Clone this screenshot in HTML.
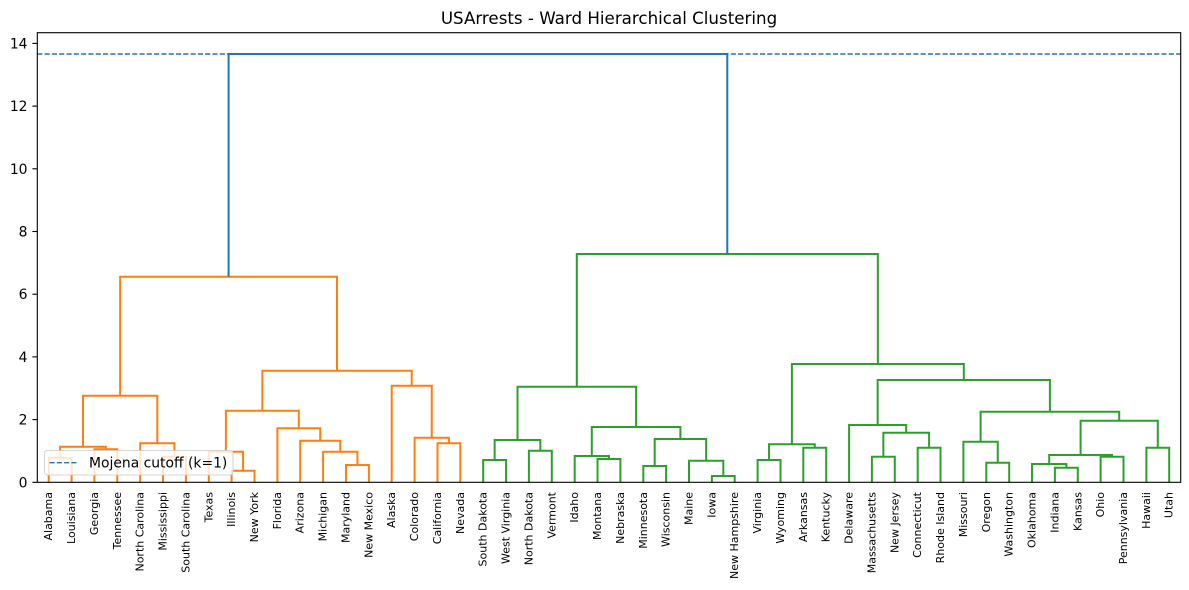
<!DOCTYPE html>
<html>
<head>
<meta charset="utf-8">
<style>
html,body{margin:0;padding:0;background:#fff;}
body{width:1189px;height:590px;overflow:hidden;}
svg{display:block;font-family:"DejaVu Sans","Liberation Sans",sans-serif;}
</style>
</head>
<body>
<svg width="1189" height="590" viewBox="0 0 1189 590" xmlns="http://www.w3.org/2000/svg">
<rect x="0" y="0" width="1189" height="590" fill="#fff"/>
<text x="609" y="24" font-size="16.7" text-anchor="middle" fill="#000">USArrests - Ward Hierarchical Clustering</text>

<g fill="none" stroke="#ff7f0e" stroke-width="2" stroke-linejoin="miter" stroke-linecap="butt">
<path d="M48.7,482.3V457.7H71.6V482.3"/>
<path d="M94.4,482.3V449.3H117.3V482.3"/>
<path d="M60.15,457.7V446.7H105.85V449.3"/>
<path d="M163,482.3V456.7H185.9V482.3"/>
<path d="M140.2,482.3V443.3H174.45V456.7"/>
<path d="M83,446.7V395.7H157.3V443.3"/>
<path d="M231.6,482.3V470.7H254.5V482.3"/>
<path d="M208.8,482.3V451.7H243.05V470.7"/>
<path d="M346,482.3V465H368.9V482.3"/>
<path d="M323.1,482.3V451.7H357.45V465"/>
<path d="M300.2,482.3V440.7H340.3V451.7"/>
<path d="M277.4,482.3V428.3H320.25V440.7"/>
<path d="M225.9,451.7V410.7H298.8V428.3"/>
<path d="M437.5,482.3V443.3H460.3V482.3"/>
<path d="M414.6,482.3V437.7H448.9V443.3"/>
<path d="M391.7,482.3V385.7H431.75V437.7"/>
<path d="M262.35,410.7V370.7H411.7V385.7"/>
<path d="M120.15,395.7V276.7H337V370.7"/>
</g>
<g fill="none" stroke="#2ca02c" stroke-width="2" stroke-linejoin="miter" stroke-linecap="butt">
<path d="M483.2,482.3V460H506.1V482.3"/>
<path d="M528.9,482.3V450.7H551.8V482.3"/>
<path d="M494.65,460V440H540.35V450.7"/>
<path d="M597.5,482.3V459H620.4V482.3"/>
<path d="M574.7,482.3V456H608.95V459"/>
<path d="M643.3,482.3V466H666.1V482.3"/>
<path d="M711.9,482.3V476H734.7V482.3"/>
<path d="M689,482.3V460.7H723.3V476"/>
<path d="M654.7,466V439H706.15V460.7"/>
<path d="M591.8,456V427H680.4V439"/>
<path d="M517.5,440V386.7H636.1V427"/>
<path d="M757.6,482.3V460H780.5V482.3"/>
<path d="M803.3,482.3V447.7H826.2V482.3"/>
<path d="M769.05,460V444.3H814.75V447.7"/>
<path d="M871.9,482.3V456.7H894.8V482.3"/>
<path d="M917.7,482.3V447.7H940.5V482.3"/>
<path d="M883.35,456.7V432.7H929.1V447.7"/>
<path d="M849.1,482.3V425H906.2V432.7"/>
<path d="M986.3,482.3V462.7H1009.2V482.3"/>
<path d="M963.4,482.3V441.7H997.75V462.7"/>
<path d="M1054.9,482.3V467.7H1077.8V482.3"/>
<path d="M1032,482.3V464H1066.35V467.7"/>
<path d="M1100.6,482.3V456.7H1123.5V482.3"/>
<path d="M1049.2,464V455H1112.05V456.7"/>
<path d="M1146.4,482.3V447.7H1169.2V482.3"/>
<path d="M1080.6,455V420.7H1157.8V447.7"/>
<path d="M980.6,441.7V411.7H1119.2V420.7"/>
<path d="M877.65,425V380H1049.9V411.7"/>
<path d="M791.9,444.3V364H963.8V380"/>
<path d="M576.8,386.7V254H877.85V364"/>
</g>
<g fill="none" stroke="#1f77b4" stroke-width="2">
<path d="M228.6,276.7V54H727.3V254"/>
</g>

<!-- cutoff line -->
<line x1="37.3" y1="54" x2="1180.7" y2="54" stroke="#1f77b4" stroke-width="1.4" stroke-dasharray="5.1,2.2"/>

<!-- spines -->
<rect x="37.3" y="32.7" width="1143.4" height="449.6" fill="none" stroke="#000" stroke-width="1.1"/>

<!-- y ticks -->
<g stroke="#000" stroke-width="1.1">
<line x1="32.4" y1="482.3" x2="37.3" y2="482.3"/>
<line x1="32.4" y1="419.6" x2="37.3" y2="419.6"/>
<line x1="32.4" y1="356.9" x2="37.3" y2="356.9"/>
<line x1="32.4" y1="294.2" x2="37.3" y2="294.2"/>
<line x1="32.4" y1="231.5" x2="37.3" y2="231.5"/>
<line x1="32.4" y1="168.8" x2="37.3" y2="168.8"/>
<line x1="32.4" y1="106.1" x2="37.3" y2="106.1"/>
<line x1="32.4" y1="43.4" x2="37.3" y2="43.4"/>
</g>
<g font-size="13.9" text-anchor="end" fill="#000">
<text x="27.5" y="487.3">0</text>
<text x="27.5" y="424.6">2</text>
<text x="27.5" y="361.9">4</text>
<text x="27.5" y="299.2">6</text>
<text x="27.5" y="236.5">8</text>
<text x="27.5" y="173.8">10</text>
<text x="27.5" y="111.1">12</text>
<text x="27.5" y="48.4">14</text>
</g>

<!-- leaf labels -->
<g font-size="11" text-anchor="end" dominant-baseline="central" fill="#000">
<text transform="translate(48.7,492) rotate(-90)">Alabama</text>
<text transform="translate(71.6,492) rotate(-90)">Louisiana</text>
<text transform="translate(94.4,492) rotate(-90)">Georgia</text>
<text transform="translate(117.3,492) rotate(-90)">Tennessee</text>
<text transform="translate(140.2,492) rotate(-90)">North Carolina</text>
<text transform="translate(163,492) rotate(-90)">Mississippi</text>
<text transform="translate(185.9,492) rotate(-90)">South Carolina</text>
<text transform="translate(208.8,492) rotate(-90)">Texas</text>
<text transform="translate(231.6,492) rotate(-90)">Illinois</text>
<text transform="translate(254.5,492) rotate(-90)">New York</text>
<text transform="translate(277.4,492) rotate(-90)">Florida</text>
<text transform="translate(300.2,492) rotate(-90)">Arizona</text>
<text transform="translate(323.1,492) rotate(-90)">Michigan</text>
<text transform="translate(346,492) rotate(-90)">Maryland</text>
<text transform="translate(368.9,492) rotate(-90)">New Mexico</text>
<text transform="translate(391.7,492) rotate(-90)">Alaska</text>
<text transform="translate(414.6,492) rotate(-90)">Colorado</text>
<text transform="translate(437.5,492) rotate(-90)">California</text>
<text transform="translate(460.3,492) rotate(-90)">Nevada</text>
<text transform="translate(483.2,492) rotate(-90)">South Dakota</text>
<text transform="translate(506.1,492) rotate(-90)">West Virginia</text>
<text transform="translate(528.9,492) rotate(-90)">North Dakota</text>
<text transform="translate(551.8,492) rotate(-90)">Vermont</text>
<text transform="translate(574.7,492) rotate(-90)">Idaho</text>
<text transform="translate(597.5,492) rotate(-90)">Montana</text>
<text transform="translate(620.4,492) rotate(-90)">Nebraska</text>
<text transform="translate(643.3,492) rotate(-90)">Minnesota</text>
<text transform="translate(666.1,492) rotate(-90)">Wisconsin</text>
<text transform="translate(689,492) rotate(-90)">Maine</text>
<text transform="translate(711.9,492) rotate(-90)">Iowa</text>
<text transform="translate(734.7,492) rotate(-90)">New Hampshire</text>
<text transform="translate(757.6,492) rotate(-90)">Virginia</text>
<text transform="translate(780.5,492) rotate(-90)">Wyoming</text>
<text transform="translate(803.3,492) rotate(-90)">Arkansas</text>
<text transform="translate(826.2,492) rotate(-90)">Kentucky</text>
<text transform="translate(849.1,492) rotate(-90)">Delaware</text>
<text transform="translate(871.9,492) rotate(-90)">Massachusetts</text>
<text transform="translate(894.8,492) rotate(-90)">New Jersey</text>
<text transform="translate(917.7,492) rotate(-90)">Connecticut</text>
<text transform="translate(940.5,492) rotate(-90)">Rhode Island</text>
<text transform="translate(963.4,492) rotate(-90)">Missouri</text>
<text transform="translate(986.3,492) rotate(-90)">Oregon</text>
<text transform="translate(1009.2,492) rotate(-90)">Washington</text>
<text transform="translate(1032,492) rotate(-90)">Oklahoma</text>
<text transform="translate(1054.9,492) rotate(-90)">Indiana</text>
<text transform="translate(1077.8,492) rotate(-90)">Kansas</text>
<text transform="translate(1100.6,492) rotate(-90)">Ohio</text>
<text transform="translate(1123.5,492) rotate(-90)">Pennsylvania</text>
<text transform="translate(1146.4,492) rotate(-90)">Hawaii</text>
<text transform="translate(1169.2,492) rotate(-90)">Utah</text>
</g>

<!-- legend -->
<rect x="44.5" y="450.5" width="188.5" height="24.5" rx="2.8" ry="2.8" fill="#fff" fill-opacity="0.8" stroke="#cccccc" stroke-opacity="0.8" stroke-width="1.1"/>
<line x1="49.5" y1="462.7" x2="77.3" y2="462.7" stroke="#1f77b4" stroke-width="1.4" stroke-dasharray="5.1,2.2"/>
<text x="89" y="467.6" font-size="13.9" fill="#000">Mojena cutoff (k=1)</text>
</svg>
</body>
</html>
